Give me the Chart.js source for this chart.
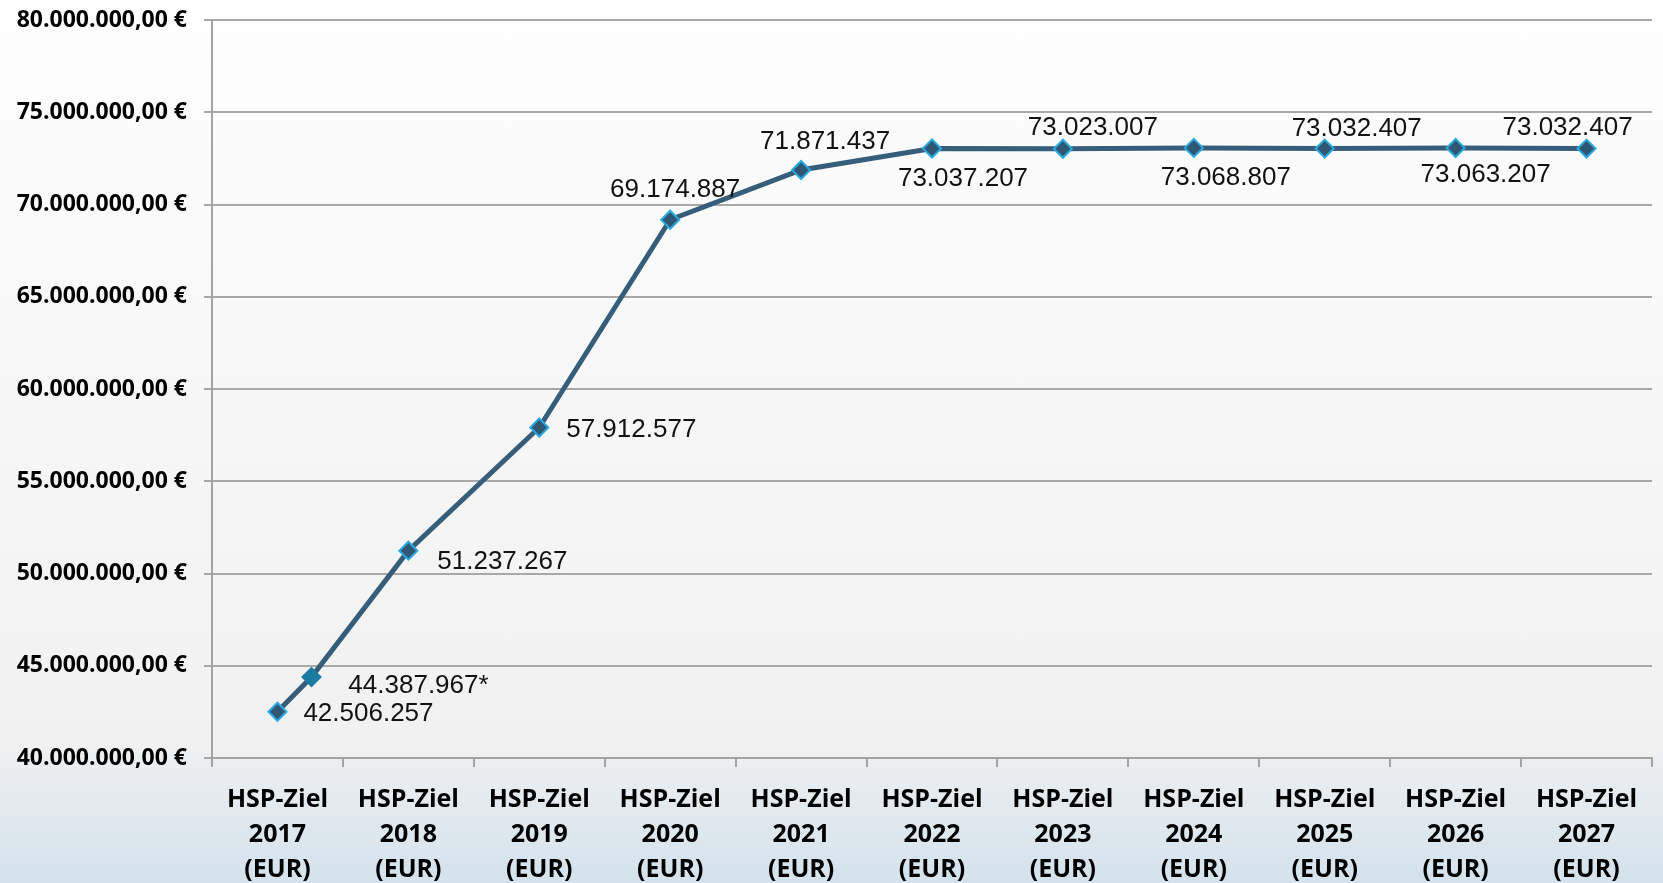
<!DOCTYPE html>
<html lang="de">
<head>
<meta charset="utf-8">
<title>HSP-Ziel 2017-2027</title>
<script src="https://cdn.jsdelivr.net/npm/chart.js@4.4.1/dist/chart.umd.min.js"></script>
<style>
  html, body {
    margin: 0;
    padding: 0;
  }
  body {
    width: 1663px;
    height: 883px;
    background: linear-gradient(to bottom, #fefefe 0%, #f1f1f1 84%, #e7ecf0 89%, #d3e2ec 100%);
    overflow: hidden;
  }
  #wrap {
    position: relative;
    width: 1663px;
    height: 883px;
  }
</style>
</head>
<body>
<div id="wrap"><canvas id="hspChart"></canvas></div>
<script>
// --- Data ---
const years = ["2017", "2018", "2019", "2020", "2021", "2022", "2023", "2024", "2025", "2026", "2027"];
// position on the year axis (2017 has a second, corrected value)
const pointYears = [0, 0.26, 1, 2, 3, 4, 5, 6, 7, 8, 9, 10];
const targetValues = [
  42506257, 44387967, 51237267, 57912577, 69174887, 71871437,
  73037207, 73023007, 73068807, 73032407, 73063207, 73032407,
];
const footnoteMarks = ["", "*", "", "", "", "", "", "", "", "", "", ""];
const yTicks = [40000000, 45000000, 50000000, 55000000, 60000000, 65000000, 70000000, 75000000, 80000000];

// label placement relative to each point (px)
const labelShift = [
  [91, 2], [107, 9], [94, 11], [92, 2], [5, -30], [24, -28],
  [31, 30], [30, -21], [32, 30], [32, -20], [30, 27], [-19, -21],
];

const groupDigits = (v) => String(Math.round(v)).replace(/\B(?=(\d{3})+(?!\d))/g, ".");

// --- Plugins ---
const valueLabels = {
  id: "valueLabels",
  afterDatasetsDraw(chart) {
    const ctx = chart.ctx;
    const meta = chart.getDatasetMeta(0);
    ctx.save();
    ctx.font = '26px "Liberation Sans", Arial, sans-serif';
    ctx.fillStyle = "#111111";
    ctx.textAlign = "center";
    ctx.textBaseline = "middle";
    meta.data.forEach((pt, i) => {
      const text = groupDigits(targetValues[i]) + footnoteMarks[i];
      ctx.fillText(text, pt.x + labelShift[i][0], pt.y + labelShift[i][1]);
    });
    ctx.restore();
  },
};

// short tick marks between the year groups, below the x axis
const groupTicks = {
  id: "groupTicks",
  afterDraw(chart) {
    const ctx = chart.ctx;
    const x = chart.scales.x;
    const bottom = chart.chartArea.bottom;
    ctx.save();
    ctx.strokeStyle = "#a3a3a3";
    ctx.lineWidth = 2;
    for (let k = 0; k <= years.length; k++) {
      const px = Math.round(x.getPixelForValue(k - 0.5));
      ctx.beginPath();
      ctx.moveTo(px, bottom);
      ctx.lineTo(px, bottom + 9);
      ctx.stroke();
    }
    ctx.restore();
  },
};

// --- Chart ---
const points = pointYears.map((x, i) => ({ x: x, y: targetValues[i] }));
const fillColors = footnoteMarks.map((m) => (m ? "#1c7ba3" : "#2f5672"));
const edgeColors = footnoteMarks.map((m) => (m ? "#1c7ba3" : "#2aa9e0"));

new Chart(document.getElementById("hspChart"), {
  type: "line",
  data: {
    datasets: [
      {
        label: "HSP-Ziel (EUR)",
        data: points,
        borderColor: "#365d79",
        borderWidth: 5,
        tension: 0,
        pointStyle: "rectRot",
        pointRadius: 9,
        pointHoverRadius: 9,
        pointBackgroundColor: fillColors,
        pointBorderColor: edgeColors,
        pointBorderWidth: 2,
      },
    ],
  },
  options: {
    responsive: true,
    maintainAspectRatio: false,
    animation: false,
    layout: { padding: { top: 20, right: 4, left: 0, bottom: 0 } },
    plugins: {
      legend: { display: false },
      tooltip: { enabled: false },
    },
    scales: {
      x: {
        type: "linear",
        min: -0.5,
        max: years.length - 0.5,
        afterBuildTicks: (scale) => {
          scale.ticks = years.map((_, i) => ({ value: i }));
        },
        afterFit: (scale) => {
          scale.height = 125;
          scale.paddingLeft = 0;
          scale.paddingRight = 0;
        },
        grid: { display: false },
        border: { display: true, color: "#a3a3a3", width: 2 },
        ticks: {
          autoSkip: false,
          maxRotation: 0,
          padding: 16,
          color: "#000000",
          font: { family: '"Open Sans", sans-serif', size: 25, weight: "bold", lineHeight: 1.4 },
          callback: (value) => ["HSP-Ziel", years[value], "(EUR)"],
        },
      },
      y: {
        min: yTicks[0],
        max: yTicks[yTicks.length - 1],
        afterBuildTicks: (scale) => {
          scale.ticks = yTicks.map((v) => ({ value: v }));
        },
        afterFit: (scale) => {
          scale.width = 212;
          scale.paddingTop = 0;
          scale.paddingBottom = 0;
        },
        grid: { color: "#a8a8a8", lineWidth: 2, tickLength: 8 },
        border: { display: true, color: "#a3a3a3", width: 2 },
        ticks: {
          padding: 17,
          color: "#000000",
          font: { family: '"Open Sans", sans-serif', size: 23, weight: "bold" },
          callback: (value) => groupDigits(value) + ",00 €",
        },
      },
    },
  },
  plugins: [valueLabels, groupTicks],
});
</script>
</body>
</html>
